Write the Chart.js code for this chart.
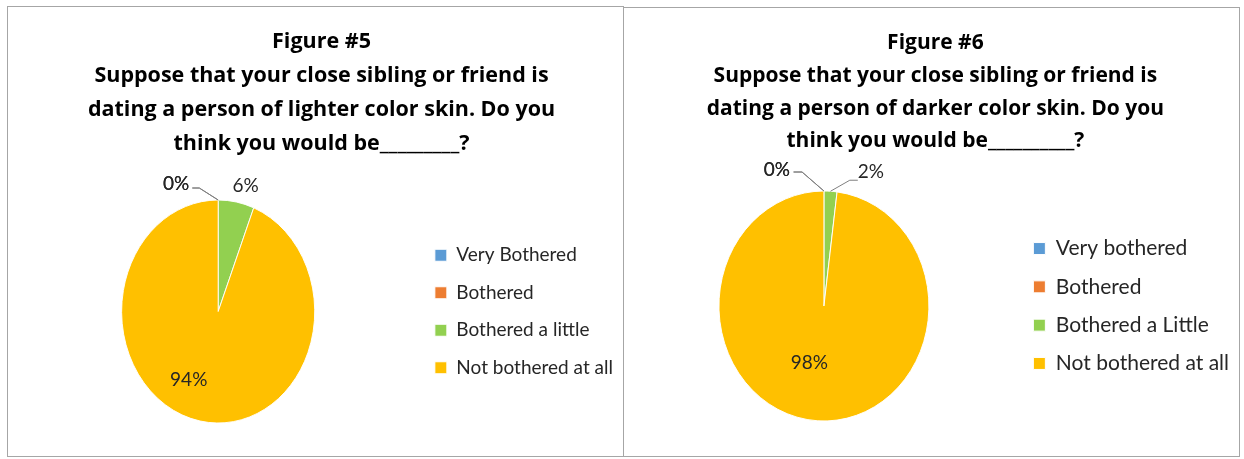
<!DOCTYPE html>
<html>
<head>
<meta charset="utf-8">
<title>Figures 5 and 6</title>
<script src="https://cdn.jsdelivr.net/npm/chart.js@4.4.0/dist/chart.umd.min.js"></script>
<style>
  html, body { margin: 0; padding: 0; background: #fff; }
  body { width: 1244px; height: 459px; position: relative; overflow: hidden; }
  .panel { position: absolute; border: 1px solid #a6a6a6; box-sizing: border-box; overflow: hidden; background: #fff; }
  canvas { display: block; }
</style>
</head>
<body>
<div class="panel" style="left:7px; top:6px; width:617px; height:451px;">
  <canvas id="fig5" width="615" height="449"></canvas>
</div>
<div class="panel" style="left:623px; top:7px; width:617px; height:450px;">
  <canvas id="fig6" width="615" height="448"></canvas>
</div>
<script>
// Survey answers, percent of respondents
const categories5 = ['Very Bothered', 'Bothered', 'Bothered a little', 'Not bothered at all']
const values5 = [0, 0, 6, 94]
const title5 = [
  'Figure #5',
  'Suppose that your close sibling or friend is',
  'dating a person of lighter color skin. Do you',
  'think you would be_________?'
]

const categories6 = ['Very bothered', 'Bothered', 'Bothered a Little', 'Not bothered at all']
const values6 = [0, 0, 2, 98]
const title6 = [
  'Figure #6',
  'Suppose that your close sibling or friend is',
  'dating a person of darker color skin. Do you',
  'think you would be__________?'
]

const sliceColors = ['#5B9BD5', '#ED7D31', '#92D050', '#FFC000']

// Squeezes the pie sideways into an oval, then writes the percent labels
// (with a bent leader line for the thin slices)
const ovalPie = {
  id: 'ovalPie',
  beforeDatasetsDraw (chart, args, opts) {
    const arc = chart.getDatasetMeta(0).data[0]
    const ctx = chart.ctx
    ctx.save()
    ctx.translate(arc.x, arc.y)
    ctx.scale(opts.squeeze, 1)
    ctx.translate(-arc.x, -arc.y)
  },
  afterDatasetsDraw (chart, args, opts) {
    const ctx = chart.ctx
    ctx.restore()
    const meta = chart.getDatasetMeta(0)
    const values = chart.data.datasets[0].data
    ctx.save()
    ctx.font = opts.font
    ctx.textAlign = 'center'
    ctx.textBaseline = 'middle'
    meta.data.forEach(function (arc, i) {
      const spot = opts.spots[i]
      const mid = (arc.startAngle + arc.endAngle) / 2
      const r = arc.outerRadius
      const edgeX = arc.x + Math.cos(mid) * r * opts.squeeze
      const edgeY = arc.y + Math.sin(mid) * r
      const lx = arc.x + Math.cos(mid) * r * spot.k * opts.squeeze + spot.dx
      const ly = arc.y + Math.sin(mid) * r * spot.k + spot.dy
      const text = values[i] + '%'
      if (spot.leader) {
        const ld = spot.leader
        const half = ctx.measureText(text).width / 2
        const x0 = lx + ld.side * (half + ld.gap)
        const x1 = x0 + ld.side * ld.run
        ctx.beginPath()
        ctx.moveTo(x0, ly + ld.rise)
        ctx.lineTo(x1, ly + ld.rise)
        ctx.lineTo(edgeX, edgeY)
        ctx.strokeStyle = '#7f7f7f'
        ctx.lineWidth = 1
        ctx.stroke()
      }
      ctx.fillStyle = opts.color
      ctx.fillText(text, lx, ly)
    })
    ctx.restore()
  }
}

function makePie (id, labels, values, title, look) {
  const ctx = document.getElementById(id).getContext('2d')
  return new Chart(ctx, {
    type: 'pie',
    data: {
      labels: labels,
      datasets: [{
        data: values,
        backgroundColor: sliceColors,
        borderColor: '#ffffff',
        borderWidth: 1,
        radius: look.radius
      }]
    },
    options: {
      responsive: false,
      animation: false,
      events: [],
      layout: { padding: look.padding },
      plugins: {
        title: {
          display: true,
          text: title,
          color: '#000000',
          font: { family: 'Open Sans', weight: 'bold', size: look.titleSize, lineHeight: look.titleLine },
          padding: look.titlePadding
        },
        legend: {
          position: 'right',
          fullSize: false,
          labels: {
            color: '#262626',
            font: { family: 'Lato', size: look.legendSize },
            boxWidth: 12,
            boxHeight: 12,
            padding: look.legendPadding
          }
        },
        tooltip: { enabled: false },
        ovalPie: {
          squeeze: look.squeeze,
          font: '19px Lato',
          color: '#262626',
          spots: look.spots
        }
      }
    },
    plugins: [ovalPie]
  })
}

makePie('fig5', categories5, values5, title5, {
  radius: 111.5,
  squeeze: 0.866,
  padding: { left: 12, right: 0, top: 0, bottom: 2 },
  titleSize: 21.5,
  titleLine: '34px',
  titlePadding: { top: 18, bottom: 8 },
  legendSize: 19,
  legendPadding: 18.5,
  spots: [
    { k: 1, dx: -42, dy: -16, leader: { side: 1, gap: 3, run: 7, rise: 4 } },
    { k: 1, dx: -42, dy: -16, leader: { side: 1, gap: 3, run: 7, rise: 4 } },
    { k: 1, dx: 9.4, dy: -16 },
    { k: 0.6, dx: -18.6, dy: 2.3 }
  ]
})

makePie('fig6', categories6, values6, title6, {
  radius: 115,
  squeeze: 0.913,
  padding: { left: 7.8, right: 0, top: 0, bottom: 8.4 },
  titleSize: 21,
  titleLine: '32.7px',
  titlePadding: { top: 19, bottom: 6.6 },
  legendSize: 21,
  legendPadding: 17.3,
  spots: [
    { k: 1, dx: -47, dy: -21, leader: { side: 1, gap: 3.5, run: 8.5, rise: 2 } },
    { k: 1, dx: -47, dy: -21, leader: { side: 1, gap: 3.5, run: 8.5, rise: 2 } },
    { k: 1, dx: 40.4, dy: -19, leader: { side: -1, gap: 0, run: 8, rise: 8 } },
    { k: 0.5, dx: -11.2, dy: -0.7 }
  ]
})
</script>
</body>
</html>
